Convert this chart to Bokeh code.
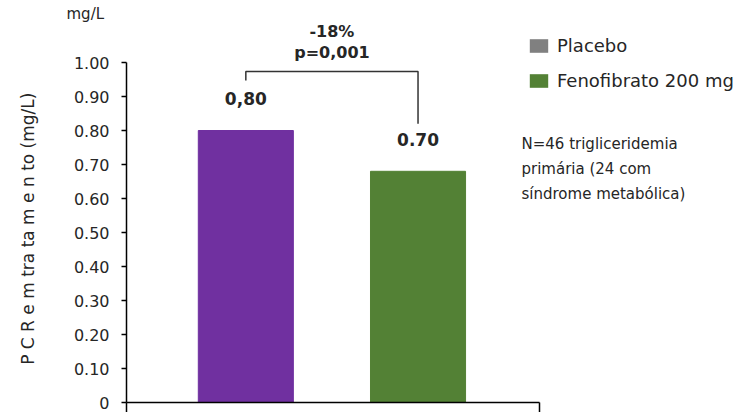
from bokeh.plotting import figure
from bokeh.models import Range1d, FixedTicker, Legend, LegendItem, ColumnDataSource, Title
from bokeh.core.properties import value
from bokeh.embed import file_html
from bokeh.resources import INLINE

# ---- data ----
positions = [0, 1]
values = [0.80, 0.68]
bar_colors = ["#7030A0", "#538135"]
value_labels = ["0,80", "0.70"]
y_ticks = [0, 0.1, 0.2, 0.3, 0.4, 0.5, 0.6, 0.7, 0.8, 0.9, 1.0]
y_tick_labels = ["0", "0.10", "0.20", "0.30", "0.40", "0.50", "0.60", "0.70", "0.80", "0.90", "1.00"]
legend_names = ["Placebo", "Fenofibrato 200 mg"]
legend_colors = ["#808080", "#538135"]
change_text = "-18%"
p_text = "p=0,001"
note_text = "N=46 trigliceridemia\nprimária (24 com\nsíndrome metabólica)"
unit_text = "mg/L"
y_title = "P C R e m tra ta m e n to (mg/L)"

FONT = "DejaVu Sans"
TXT = "#262626"

TOP = 22
X0, X1, XEND = -0.693, 1.705, 2.925
Y1 = 1 + (62 - TOP) / 340

p = figure(width=749, height=412, output_backend="svg", toolbar_location=None,
           x_range=Range1d(X0, XEND), y_range=Range1d(0, Y1),
           min_border_left=126, min_border_right=0, min_border_top=TOP, min_border_bottom=10)
p.outline_line_color = None
p.xgrid.visible = False
p.ygrid.visible = False
p.background_fill_color = "white"

# unit label in the top-left corner
p.add_layout(Title(text=unit_text, align="left", offset=-60, standoff=0, text_font=FONT,
                   text_font_size="15px", text_font_style="normal", text_color=TXT), "above")

src = ColumnDataSource(dict(x=positions, top=values, color=bar_colors, label=value_labels))
p.vbar(x="x", top="top", width=0.552, color="color", source=src)
p.text(x="x", y="top", text="label", source=src, text_align="center", text_baseline="middle",
       y_offset=-32, text_font=value(FONT), text_font_style="bold", text_font_size="17px", text_color=TXT)

# bracket between the two bars
p.line(x=[positions[0], positions[0], positions[1], positions[1]],
       y=[0.947, 0.9735, 0.9735, 0.82], line_color="#333333", line_width=1.5)
mid = (positions[0] + positions[1]) / 2
p.text(x=[mid, mid], y=[1.091, 1.029], text=[change_text, p_text], text_align="center",
       text_baseline="middle", text_font=value(FONT), text_font_style="bold",
       text_font_size="16px", text_color=TXT)

# note
p.text(x=[1.601], y=[0.787], text=[note_text], text_align="left", text_baseline="top",
       text_font=value(FONT), text_font_size="15px", text_color=TXT, text_line_height=1.4)

# y axis
ya = p.yaxis[0]
ya.bounds = (0, 1)
ya.ticker = FixedTicker(ticks=y_ticks)
ya.major_label_overrides = {t: l for t, l in zip(y_ticks, y_tick_labels)}
ya.major_tick_in = 0
ya.major_tick_out = 5
ya.minor_tick_line_color = None
ya.axis_line_color = "black"
ya.axis_line_width = 1.5
ya.major_tick_line_color = "black"
ya.major_tick_line_width = 1.5
ya.major_label_text_font = FONT
ya.major_label_text_font_size = "16px"
ya.major_label_text_color = TXT
ya.major_label_standoff = 12
ya.axis_label = y_title + "\u00a0" * 6
ya.axis_label_text_font = FONT
ya.axis_label_text_font_size = "17px"
ya.axis_label_text_font_style = "normal"
ya.axis_label_text_color = TXT
ya.axis_label_standoff = 33

# x axis
xa = p.xaxis[0]
xa.bounds = (X0, X1)
xa.ticker = FixedTicker(ticks=[X0, X1])
xa.major_label_text_color = None
xa.major_label_text_font_size = "1px"
xa.major_label_standoff = 0
xa.major_tick_in = 0
xa.major_tick_out = 10
xa.minor_tick_line_color = None
xa.axis_line_color = "black"
xa.axis_line_width = 1.5
xa.major_tick_line_color = "black"
xa.major_tick_line_width = 1.5

# legend (swatches drawn as zero-height bars so only the legend shows them)
items = []
for i, (name, col) in enumerate(zip(legend_names, legend_colors)):
    r = p.vbar(x=[positions[i]], top=[0], bottom=[0], width=0.5, fill_color=col, line_color=None)
    items.append(LegendItem(label=name, renderers=[r]))
leg = Legend(items=items, location=(401, 311), padding=0, margin=0, border_line_color=None,
             background_fill_alpha=0, glyph_width=23, glyph_height=17, label_height=17,
             spacing=14, label_standoff=7, label_text_font=FONT, label_text_font_size="18px",
             label_text_color=TXT)
p.add_layout(leg)

open("out.html", "w").write(file_html(p, INLINE))
